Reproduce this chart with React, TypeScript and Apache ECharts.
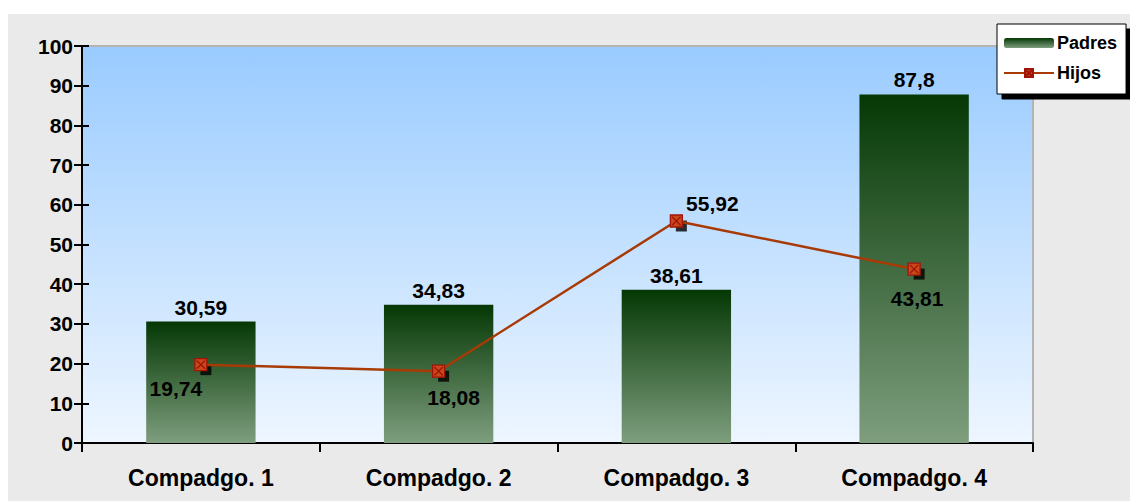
import React, { useEffect, useRef } from "react";
import * as echarts from "echarts";

const categories = ["Compadgo. 1", "Compadgo. 2", "Compadgo. 3", "Compadgo. 4"];
const padres = [30.59, 34.83, 38.61, 87.8];
const hijos = [19.74, 18.08, 55.92, 43.81];
const hijosLabelPos = ["bottom", "bottom", "top", "bottom"];
const hijosLabelOffset = [[-25, 0], [15, 2], [36, 7], [3, 5]];
const yTicks = { min: 0, max: 100, interval: 10 };

const fmt = (v: number) => String(v).replace(".", ",");
const FONT = "'Liberation Sans', Arial, sans-serif";

export default function App() {
  const ref = useRef<HTMLDivElement>(null);
  useEffect(() => {
    if (!ref.current) return;
    const chart = echarts.init(ref.current, undefined, { renderer: "svg" });
    const barGrad = new echarts.graphic.LinearGradient(0, 0, 0, 1, [
      { offset: 0, color: "#053805" },
      { offset: 1, color: "#7e9e7e" },
    ]);
    const bgGrad = new echarts.graphic.LinearGradient(0, 0, 0, 1, [
      { offset: 0, color: "#99cbff" },
      { offset: 1, color: "#eef6ff" },
    ]);
    const markerPath = "path://M0,0H10V10H0Z M1.5,1.5L8.5,8.5 M8.5,1.5L1.5,8.5";
    chart.setOption({
      animation: false,
      backgroundColor: "#eaeaea",
      textStyle: { fontFamily: FONT },
      grid: {
        left: 74,
        right: 97,
        top: 32,
        bottom: 58,
        show: true,
        backgroundColor: bgGrad,
        borderColor: "#b4b4b4",
        borderWidth: 2,
      },
      legend: {
        orient: "vertical",
        left: 989,
        top: 10,
        padding: [10, 9, 12, 6],
        itemGap: 12,
        itemWidth: 50,
        itemHeight: 10,
        backgroundColor: "#ffffff",
        borderColor: "#000",
        borderWidth: 1,
        shadowColor: "#000",
        shadowBlur: 0,
        shadowOffsetX: 5,
        shadowOffsetY: 5,
        data: ["Padres", "Hijos"],
        textStyle: { fontFamily: FONT, fontWeight: "bold", fontSize: 18, color: "#000", padding: [0, 0, 0, -2] },
      },
      xAxis: {
        type: "category",
        data: categories,
        boundaryGap: true,
        axisLine: { lineStyle: { color: "#000", width: 2 } },
        axisTick: { show: true, length: 9, lineStyle: { color: "#000", width: 2 } },
        axisLabel: { fontFamily: FONT, fontWeight: "bold", fontSize: 23, color: "#000", margin: 23 },
      },
      yAxis: [
        {
          type: "value",
          ...yTicks,
          axisLine: { show: true, lineStyle: { color: "#000", width: 2 } },
          axisTick: { show: true, length: 8, lineStyle: { color: "#000", width: 2 } },
          axisLabel: { fontFamily: FONT, fontWeight: "bold", fontSize: 21, color: "#000", margin: 9 },
          splitLine: { show: false },
        },
        {
          type: "value",
          position: "left",
          ...yTicks,
          axisLine: { show: false },
          axisTick: { show: true, inside: true, length: 7, lineStyle: { color: "#000", width: 2 } },
          axisLabel: { show: false },
          splitLine: { show: false },
        },
      ],
      series: [
        {
          name: "Padres",
          type: "bar",
          data: padres,
          barWidth: "46%",
          itemStyle: { color: barGrad },
          label: {
            show: true,
            position: "top",
            formatter: (p: any) => fmt(p.value),
            fontFamily: FONT,
            fontWeight: "bold",
            fontSize: 21,
            color: "#000",
            distance: 4,
          },
          z: 2,
        },
        {
          name: "HijosShadow",
          type: "scatter",
          data: hijos,
          symbol: "rect",
          symbolSize: 11,
          symbolOffset: [5, 5],
          itemStyle: { color: "#000" },
          silent: true,
          z: 3,
        },
        {
          name: "Hijos",
          type: "line",
          data: hijos.map((v, i) => ({
            value: v,
            label: {
              position: hijosLabelPos[i],
              offset: hijosLabelOffset[i],
            },
          })),
          symbol: markerPath,
          symbolSize: 12,
          showAllSymbol: true,
          lineStyle: { color: "#a83a06", width: 2.5 },
          itemStyle: { color: "#c8481a", borderColor: "#a0140a", borderWidth: 1.3 },
          label: {
            show: true,
            formatter: (p: any) => fmt(p.value),
            fontFamily: FONT,
            fontWeight: "bold",
            fontSize: 21,
            color: "#000",
            distance: 7,
          },
          z: 4,
        },
      ],
    });
    return () => chart.dispose();
  }, []);
  return (
    <div style={{ position: "absolute", left: 0, top: 0, width: 1130, height: 501, background: "#fff" }}>
      <div ref={ref} style={{ position: "absolute", left: 8, top: 14, width: 1122, height: 487 }} />
    </div>
  );
}
